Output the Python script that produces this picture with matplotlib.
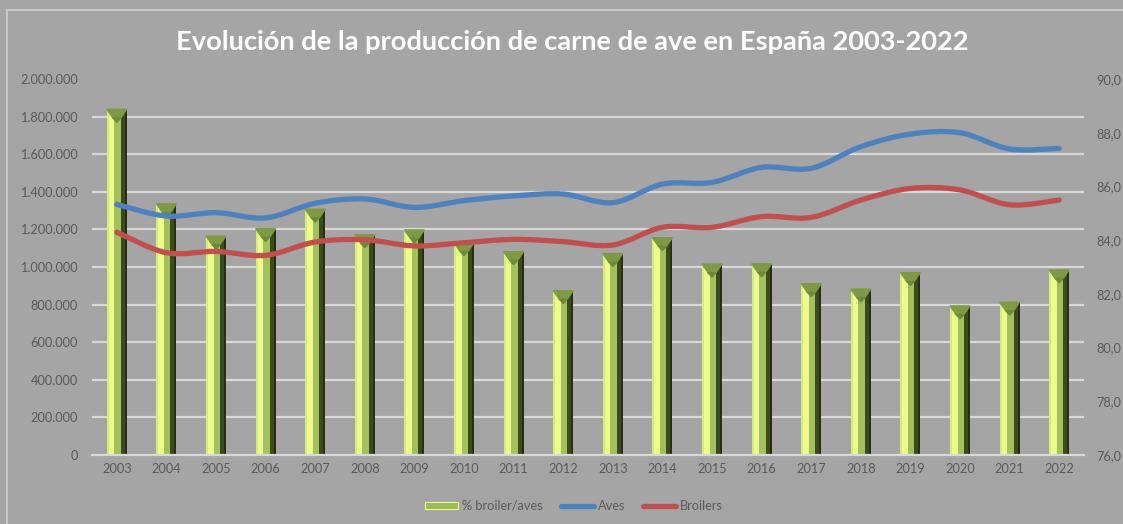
import numpy as np
import matplotlib
matplotlib.use('Agg')
import matplotlib.pyplot as plt
from matplotlib.path import Path
from matplotlib.patches import PathPatch, Polygon, Rectangle, Patch
from matplotlib.lines import Line2D
from matplotlib.ticker import FuncFormatter

# data
years = [str(y) for y in range(2003, 2023)]
aves = [1333000, 1271000, 1289000, 1261000, 1339000, 1362000, 1317000, 1353000, 1378000, 1388000,
        1342000, 1441000, 1450000, 1530000, 1525000, 1640000, 1707000, 1714000, 1628000, 1631000]
broilers = [1185000, 1076000, 1083000, 1062000, 1133000, 1145000, 1112000, 1129000, 1147000, 1135000,
            1117000, 1211000, 1211000, 1268000, 1264000, 1356000, 1418000, 1410000, 1331000, 1356000]
pct_broiler = [88.87, 85.35, 84.15, 84.43, 85.15, 84.20, 84.38, 83.90, 83.57, 82.12,
               83.50, 84.09, 83.11, 83.12, 82.38, 82.18, 82.79, 81.55, 81.69, 82.89]

BG = '#a5a5a5'
TXT = '#595959'
GRID = '#d9d9d9'
BLUE = '#4f81bd'
RED = '#c0504d'

plt.rcParams['font.family'] = ['Lato', 'DejaVu Sans']

fig = plt.figure(figsize=(11.23, 5.24), dpi=100, facecolor=BG)
W, H = 1123, 524
ax1 = fig.add_axes([92 / W, 1 - 455 / H, (1084 - 92) / W, (455 - 79) / H])
ax2 = ax1.twinx()
ax1.set_zorder(2)
ax2.set_zorder(1)
ax1.patch.set_visible(False)
ax2.patch.set_visible(False)

x = np.arange(len(years))

# bars on right axis, drawn as beveled 3D-ish columns
bw = 0.40
h = np.array(pct_broiler) - 76
ax2.bar(x, h, bottom=76, width=bw, color='#a2c05c', zorder=3)
ax2.bar(x - bw / 2 + bw * 0.19, h, bottom=76, width=bw * 0.38, color='#eefc8c', zorder=4)
ax2.bar(x - bw / 2 + bw * 0.05, h, bottom=76, width=bw * 0.1, color='#d6ec7a', zorder=4)
ax2.bar(x + bw / 2 - bw * 0.15, h, bottom=76, width=bw * 0.3, color='#3b4a1f', zorder=4)
ax2.bar(x + bw / 2 - bw * 0.05, h, bottom=76, width=bw * 0.1, color='#26300f', zorder=4)
bev = 0.32
for xi, v in zip(x, pct_broiler):
    ax2.add_patch(Polygon([(xi - bw / 2, v), (xi + bw / 2, v), (xi + bw * 0.2, v - bev),
                           (xi - bw * 0.2, v - bev)], closed=True, color='#7e9a45', zorder=5))
    ax2.add_patch(Polygon([(xi - bw * 0.2, v - bev), (xi + bw * 0.2, v - bev), (xi, v - bev * 1.5)],
                          closed=True, color='#6d8a3a', zorder=5))

ax2.set_ylim(76, 90)
ax2.set_yticks(np.arange(76, 91, 2))
ax2.set_yticks(np.linspace(76, 90, 11), minor=True)
ax2.yaxis.set_major_formatter(FuncFormatter(lambda v, p: f'{v:.1f}'.replace('.', ',')))
ax2.grid(which='minor', axis='y', color=GRID, lw=1.6, zorder=0)
ax2.tick_params(axis='y', which='both', length=0, pad=8.6, labelsize=9.2, labelcolor=TXT)


def smooth_path(xs, ys):
    pts = np.column_stack([xs, ys]).astype(float)
    n = len(pts)
    verts = [pts[0]]
    codes = [Path.MOVETO]
    for i in range(n - 1):
        p0 = pts[max(i - 1, 0)]
        p1 = pts[i]
        p2 = pts[i + 1]
        p3 = pts[min(i + 2, n - 1)]
        verts += [p1 + (p2 - p0) / 6, p2 - (p3 - p1) / 6, p2]
        codes += [Path.CURVE4] * 3
    return Path(verts, codes)


ax1.add_patch(PathPatch(smooth_path(x, aves), fill=False, edgecolor=BLUE, lw=3.8,
                        capstyle='round', zorder=6))
ax1.add_patch(PathPatch(smooth_path(x, broilers), fill=False, edgecolor=RED, lw=3.8,
                        capstyle='round', zorder=6))

ax1.set_xlim(-0.5, len(years) - 0.5)
ax1.set_ylim(0, 2000000)
ax1.set_yticks(np.arange(0, 2000001, 200000))
ax1.yaxis.set_major_formatter(FuncFormatter(lambda v, p: f'{int(v):,}'.replace(',', '.')))
ax1.set_xticks(x)
ax1.set_xticklabels(years)
ax1.tick_params(axis='y', length=0, pad=10, labelsize=9.2, labelcolor=TXT)
ax1.tick_params(axis='x', length=0, pad=6, labelsize=9.2, labelcolor=TXT)

for ax in (ax1, ax2):
    for s in ax.spines.values():
        s.set_visible(False)
ax1.spines['bottom'].set_visible(True)
ax1.spines['bottom'].set_color(GRID)
ax1.spines['bottom'].set_linewidth(1.6)

fig.text(572 / W, 1 - 42 / H, 'Evolución de la producción de carne de ave en España 2003-2022',
         ha='center', va='center', color='white', fontsize=19.6, fontweight='bold')

handles = [Patch(facecolor='#9bbb59', edgecolor='#eefc8c', lw=0.8),
           Line2D([], [], color=BLUE, lw=3.8, solid_capstyle='round'),
           Line2D([], [], color=RED, lw=3.8, solid_capstyle='round')]
leg = fig.legend(handles, ['% broiler/aves', 'Aves', 'Broilers'], loc='center',
                 bbox_to_anchor=(574 / W, 1 - 506 / H), ncol=3, frameon=False,
                 fontsize=9.2, handlelength=2.6, handletextpad=0.3, columnspacing=1.4,
                 handleheight=0.5)
for t in leg.get_texts():
    t.set_color(TXT)

fig.add_artist(Rectangle((7 / W, -0.1), 1.2, 1 - 10 / H + 0.1, transform=fig.transFigure,
                         fill=False, edgecolor='#c8c8c8', lw=1.5))

fig.savefig('out.png', dpi=100, facecolor=BG)
